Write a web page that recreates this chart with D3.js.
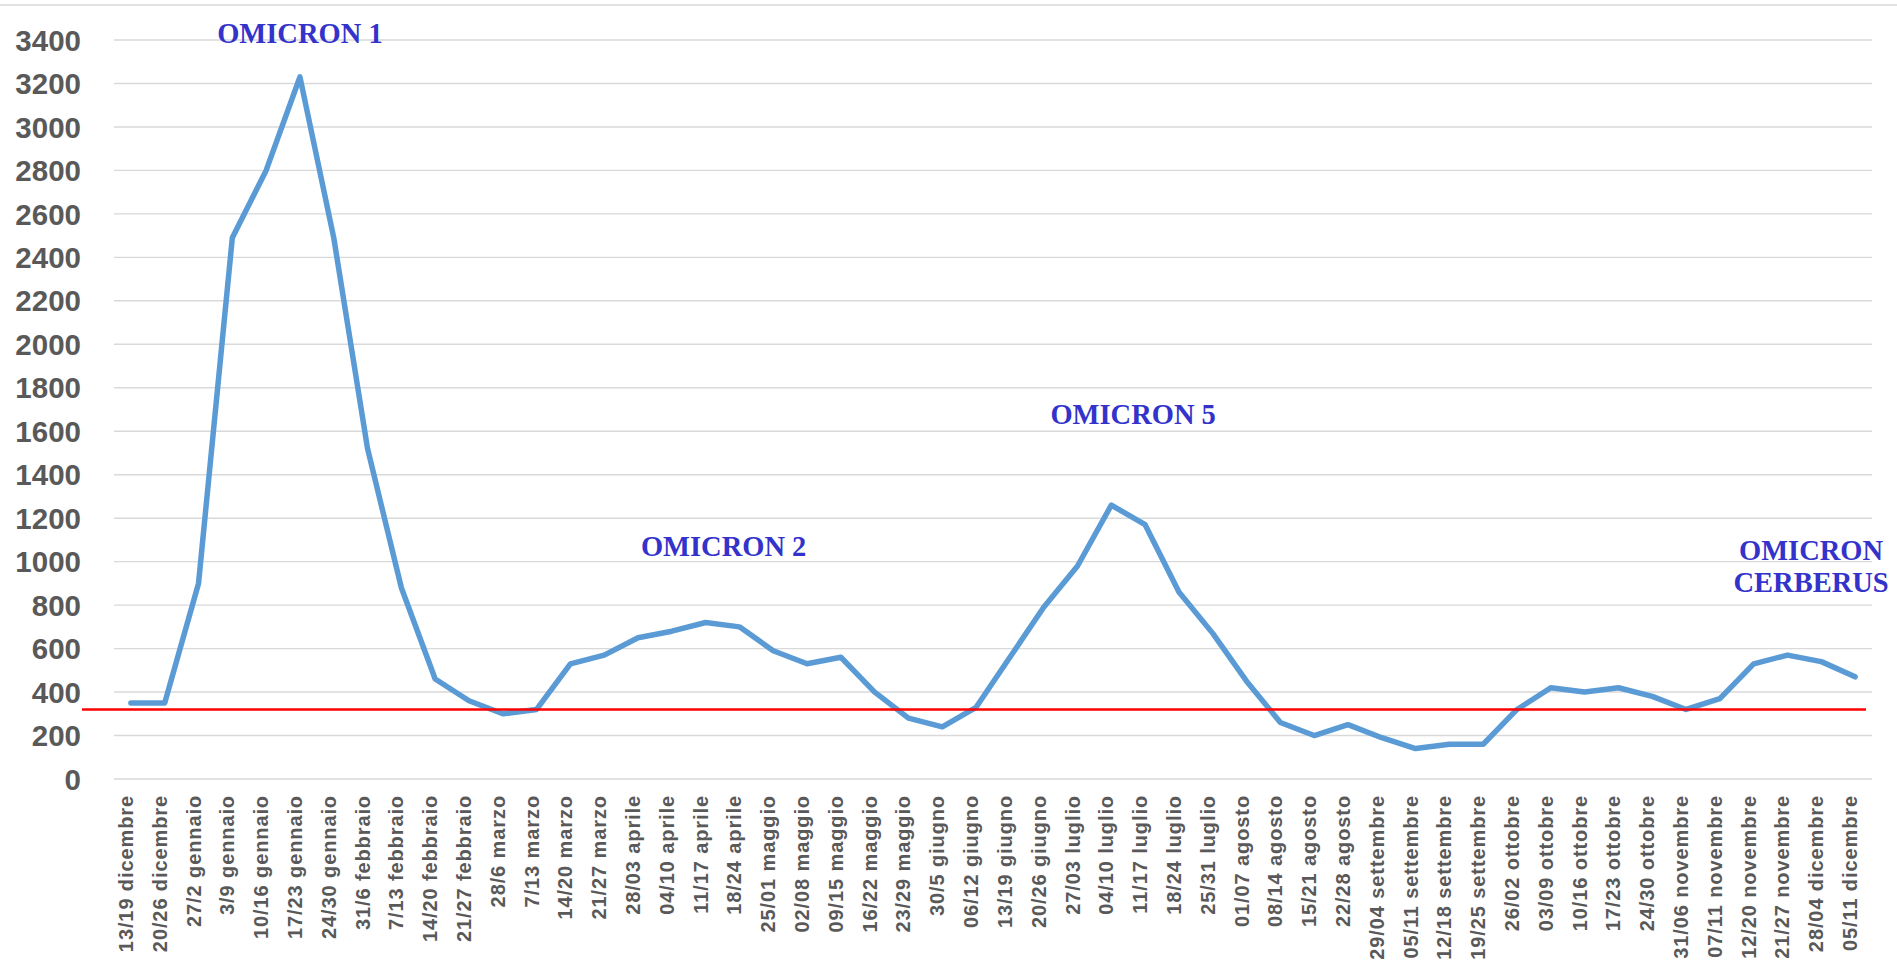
<!DOCTYPE html>
<html>
<head>
<meta charset="utf-8">
<script src="https://cdn.jsdelivr.net/npm/d3@7"></script>
<style>
  body { margin: 0; background: #fff; }
  svg { display: block; }
</style>
</head>
<body>
<div id="chart"></div>
<script>
// weekly categories
const weeks = [
  "13/19 dicembre", "20/26 dicembre", "27/2 gennaio", "3/9 gennaio", "10/16 gennaio",
  "17/23 gennaio", "24/30 gennaio", "31/6 febbraio", "7/13 febbraio", "14/20 febbraio",
  "21/27 febbraio", "28/6 marzo", "7/13 marzo", "14/20 marzo", "21/27 marzo",
  "28/03 aprile", "04/10 aprile", "11/17 aprile", "18/24 aprile", "25/01 maggio",
  "02/08 maggio", "09/15 maggio", "16/22 maggio", "23/29 maggio", "30/5 giugno",
  "06/12 giugno", "13/19 giugno", "20/26 giugno", "27/03 luglio", "04/10 luglio",
  "11/17 luglio", "18/24 luglio", "25/31 luglio", "01/07 agosto", "08/14 agosto",
  "15/21 agosto", "22/28 agosto", "29/04 settembre", "05/11 settembre", "12/18 settembre",
  "19/25 settembre", "26/02 ottobre", "03/09 ottobre", "10/16 ottobre", "17/23 ottobre",
  "24/30 ottobre", "31/06 novembre", "07/11 novembre", "12/20 novembre", "21/27 novembre",
  "28/04 dicembre", "05/11 dicembre"
];

// values
const values = [
  350, 350, 900, 2490, 2800,
  3230, 2490, 1520, 880, 460,
  360, 300, 320, 530, 570,
  650, 680, 720, 700, 590,
  530, 560, 400, 280, 240,
  330, 560, 790, 980, 1260,
  1170, 860, 670, 450, 260,
  200, 250, 190, 140, 160,
  160, 320, 420, 400, 420,
  380, 320, 370, 530, 570,
  540, 470
];

const yTicks = d3.range(0, 3401, 200);
const threshold = 320;

// variant labels: text lines, category they sit near, value level of the first baseline
const noteLines = [["OMICRON 1"], ["OMICRON 2"], ["OMICRON 5"], ["OMICRON", "CERBERUS"]];
const noteWeeks = ["17/23 gennaio", "11/17 aprile", "11/17 luglio", "05/11 dicembre"];
const noteLevels = [3386, 1026, 1633, 1008];

const W = 1897, H = 973;
const margin = {top: 40, right: 25, bottom: 194, left: 114};

const svg = d3.select("#chart").append("svg")
  .attr("width", W)
  .attr("height", H);

const width = W - margin.left - margin.right;
const height = H - margin.top - margin.bottom;

const x = d3.scaleBand().domain(weeks).range([margin.left, margin.left + width]);
const y = d3.scaleLinear().domain([0, 3400]).range([margin.top + height, margin.top]);
const cx = d => x(d) + x.bandwidth() / 2;

// outer border line at top
svg.append("line")
  .attr("x1", 0).attr("x2", W)
  .attr("y1", 5).attr("y2", 5)
  .attr("stroke", "#d9d9d9").attr("stroke-width", 1.5);

// gridlines
svg.append("g")
  .selectAll("line")
  .data(yTicks)
  .join("line")
  .attr("x1", margin.left).attr("x2", margin.left + width)
  .attr("y1", d => y(d)).attr("y2", d => y(d))
  .attr("stroke", "#d9d9d9").attr("stroke-width", 1.4);

// y axis labels
svg.append("g")
  .selectAll("text")
  .data(yTicks)
  .join("text")
  .attr("x", 81)
  .attr("y", d => y(d))
  .attr("dy", "0.36em")
  .attr("text-anchor", "end")
  .attr("font-family", "Liberation Sans, Arial, sans-serif")
  .attr("font-weight", "bold")
  .attr("font-size", "29.5px")
  .attr("fill", "#595959")
  .text(d => d);

// x axis labels, rotated
svg.append("g")
  .selectAll("text")
  .data(weeks)
  .join("text")
  .attr("transform", d => `translate(${cx(d) + 2},795) rotate(-90)`)
  .attr("text-anchor", "end")
  .attr("font-family", "Liberation Sans, Arial, sans-serif")
  .attr("font-weight", "bold")
  .attr("font-size", "20px")
  .attr("letter-spacing", "0.9px")
  .attr("fill", "#595959")
  .text(d => d);

// data line
const line = d3.line()
  .x((d, i) => cx(weeks[i]))
  .y(d => y(d));

svg.append("path")
  .datum(values)
  .attr("d", line)
  .attr("fill", "none")
  .attr("stroke", "#5b9bd5")
  .attr("stroke-width", 5.5)
  .attr("stroke-linejoin", "round")
  .attr("stroke-linecap", "round");

// red threshold line
svg.append("line")
  .attr("x1", 82).attr("x2", 1866)
  .attr("y1", y(threshold)).attr("y2", y(threshold))
  .attr("stroke", "#ff0000").attr("stroke-width", 2.6);

// variant annotations (shifted a little off their week to match the layout)
const noteShift = [0, 18, -12, -44];

noteLines.forEach((lines, k) => {
  svg.append("text")
    .attr("text-anchor", "middle")
    .attr("font-family", "Liberation Serif, Times New Roman, serif")
    .attr("font-weight", "bold")
    .attr("font-size", "28.5px")
    .attr("fill", "#3333cc")
    .selectAll("tspan")
    .data(lines)
    .join("tspan")
    .attr("x", cx(noteWeeks[k]) + noteShift[k])
    .attr("y", (l, i) => y(noteLevels[k]) + i * 32)
    .text(l => l);
});
</script>
</body>
</html>
